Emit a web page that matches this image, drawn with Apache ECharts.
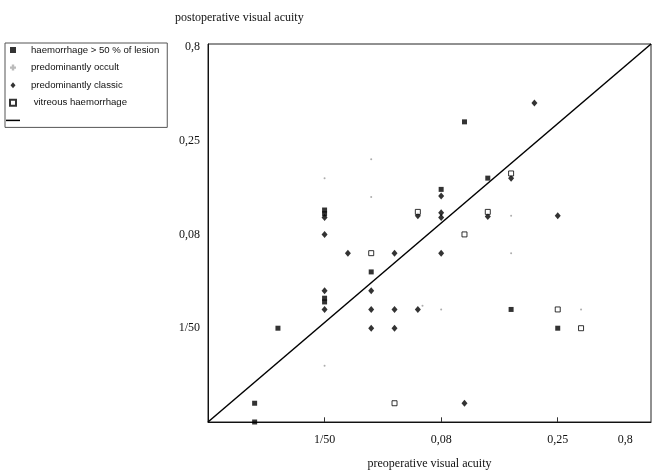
<!DOCTYPE html>
<html>
<head>
<meta charset="utf-8">
<script src="https://cdn.jsdelivr.net/npm/echarts@6/dist/echarts.min.js"></script>
<style>
  html, body { margin: 0; padding: 0; background: #fff; }
  #chart { width: 652px; height: 475px; }
</style>
</head>
<body>
<div id="chart"></div>
<script>
// axis positions are acuity steps: 1/50 = 0, 0,08 = 5, 0,25 = 10, 0,8 = 15
var tickValues = [0, 5, 10, 15];
var tickText = ['1/50', '0,08', '0,25', '0,8'];
var xLastLabel = 12.9;   // the 0,8 label sits short of its step on the x axis

// [preoperative, postoperative]
var haemorrhage = [[0, 6.3], [0, 6.1], [6, 11], [7, 8], [5, 7.4], [2, 3], [0, 1.6], [0, 1.4],
  [-2, 0], [-3, -4], [-3, -5], [8, 1], [10, 0]];
var occult = [[0, 8], [2, 9], [2, 7], [8, 6], [8, 4], [4.2, 1.2], [5, 1], [11, 1], [0, -2]];
var classic = [[0, 5.9], [4, 6], [9, 12], [8, 8], [5, 7.05], [5, 6.15], [5, 5.9], [7, 5.95],
  [10, 6], [0, 5], [1, 4], [3, 4], [2, 2], [0, 2], [0, 1], [2, 1], [3, 1], [4, 1], [2, 0],
  [3, 0], [5, 4], [6, -4]];
var vitreous = [[4, 6.2], [8, 8.25], [7, 6.2], [6, 5], [2, 4], [3, -4], [10, 1], [11, 0]];
var diagonal = [[-5, -5], [14, 15.15]];

var myChart = echarts.init(document.getElementById('chart'));
var serif = 'Liberation Serif';
var squareIcon = 'path://M0,0H10V10H0Z';
var diamondIcon = 'path://M5,0L10,6L5,12L0,6Z';
var dotIcon = 'path://M3,0H7V3H10V7H7V10H3V7H0V3H3Z';
var lineIcon = 'path://M0,0H28V3H0Z';

function stepLabel(v) {
  var i = tickValues.indexOf(v);
  return i < 0 ? '' : tickText[i];
}

// short tick strokes at the labelled steps (x: inside, y: outside)
var tickMarks = [];
[0, 5, 10].forEach(function (v) {
  tickMarks.push([{ coord: [v, -5] }, { coord: [v, -4.75] }]);
  tickMarks.push([{ coord: [-5.15, v] }, { coord: [-5, v] }]);
});

var labelStyle = { fontFamily: serif, fontSize: 12, color: '#111' };

myChart.setOption({
  animation: false,
  graphic: [{
    type: 'text', left: 175, top: 12,
    style: { text: 'postoperative visual acuity', font: '12px "Liberation Serif"', fill: '#111' }
  }],
  legend: {
    orient: 'vertical',
    left: 5, top: 43,
    padding: [2, 8, 2, 1],
    itemGap: 7.6,
    itemWidth: 14,
    itemHeight: 6,
    symbolKeepAspect: true,
    borderColor: '#555',
    borderWidth: 1,
    textStyle: { fontFamily: 'Liberation Sans', fontSize: 9.6, color: '#111', padding: [0, 0, 0, 6] },
    data: [
      { name: 'haemorrhage > 50 % of lesion', icon: squareIcon },
      { name: 'predominantly occult', icon: dotIcon, itemStyle: { color: '#aaa' } },
      { name: 'predominantly classic', icon: diamondIcon },
      { name: ' vitreous haemorrhage', icon: squareIcon },
      { name: ' ', icon: lineIcon, itemStyle: { color: '#000' } }
    ]
  },
  grid: { left: 208, top: 44, right: 1, bottom: 47, show: true, borderColor: '#222', borderWidth: 1 },
  xAxis: [
    {
      type: 'value', min: -5, max: 14, interval: 5,
      axisLine: { onZero: false, lineStyle: { color: '#111' } },
      splitLine: { show: false },
      axisTick: { show: false },
      axisLabel: Object.assign({ margin: 12, formatter: stepLabel, showMinLabel: true, showMaxLabel: false }, labelStyle),
      name: 'preoperative visual acuity',
      nameLocation: 'middle', nameGap: 36,
      nameTextStyle: labelStyle
    },
    {
      type: 'value', min: -5, max: 14, position: 'bottom',
      axisLine: { show: false }, axisTick: { show: false }, splitLine: { show: false },
      axisLabel: Object.assign({ margin: 12, customValues: [xLastLabel], formatter: function () { return tickText[3]; } }, labelStyle)
    }
  ],
  yAxis: {
    type: 'value', min: -5, max: 15.15, interval: 5,
    axisLine: { onZero: false, lineStyle: { color: '#111' } },
    splitLine: { show: false },
    axisTick: { show: false },
    axisLabel: Object.assign({ margin: 8, formatter: stepLabel, showMaxLabel: false }, labelStyle)
  },
  series: [
    {
      name: 'haemorrhage > 50 % of lesion', type: 'scatter', symbol: 'rect', symbolSize: 5,
      itemStyle: { color: '#000' }, data: haemorrhage, z: 4
    },
    {
      name: 'predominantly occult', type: 'scatter', symbol: 'circle', symbolSize: 2,
      itemStyle: { color: '#999' }, data: occult, z: 3
    },
    {
      name: 'predominantly classic', type: 'scatter', symbol: 'diamond', symbolSize: [6, 7],
      itemStyle: { color: '#000' }, data: classic, z: 3
    },
    {
      name: ' vitreous haemorrhage', type: 'scatter', symbol: 'rect', symbolSize: 5,
      itemStyle: { color: '#fff', borderColor: '#000', borderWidth: 1 }, data: vitreous, z: 5
    },
    {
      name: ' ', type: 'line', symbol: 'none', data: diagonal, clip: false,
      itemStyle: { color: '#000' },
      lineStyle: { color: '#000', width: 1.5 }, z: 2,
      markLine: {
        silent: true, symbol: 'none', label: { show: false },
        lineStyle: { color: '#333', width: 1, type: 'solid' },
        data: tickMarks
      }
    }
  ]
});
</script>
</body>
</html>
